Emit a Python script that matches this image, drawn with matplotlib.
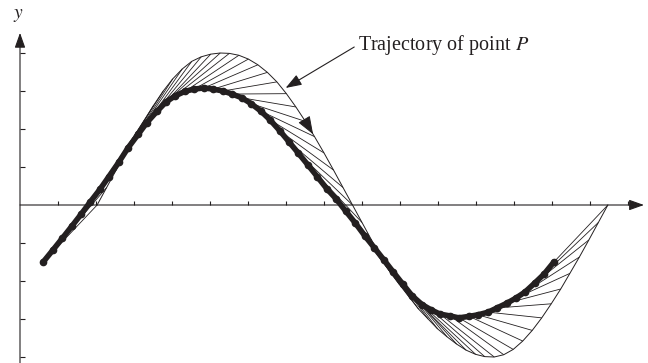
import matplotlib.pyplot as plt
from matplotlib.collections import LineCollection

plt.rcParams['font.family'] = ['Liberation Serif', 'DejaVu Serif']
plt.rcParams['mathtext.fontset'] = 'stix'

# point P, one sample per step
p_x = [2.03, 2.28, 2.53, 2.78, 3.03, 3.27, 3.52, 3.77, 4.02, 4.27,
       4.52, 4.77, 5.02, 5.27, 5.51, 5.76, 6.01, 6.26, 6.51, 6.76,
       7.01, 7.26, 7.51, 7.75, 8.00, 8.25, 8.50, 8.75, 9.00, 9.25,
       9.50, 9.75, 9.99, 10.24, 10.49, 10.74, 10.99, 11.24, 11.49, 11.74,
       11.99, 12.23, 12.48, 12.73, 12.98, 13.23, 13.48, 13.73, 13.98, 14.23,
       14.47, 14.72, 14.97, 15.22, 15.47]
p_y = [0.00, 0.46, 0.92, 1.37, 1.80, 2.22, 2.63, 3.00, 3.32, 3.58,
       3.78, 3.90, 3.97, 4.00, 3.99, 3.94, 3.84, 3.69, 3.49, 3.24,
       2.93, 2.58, 2.20, 1.80, 1.37, 0.92, 0.46, 0.00, -0.46, -0.92,
       -1.37, -1.78, -2.10, -2.42, -2.74, -3.00, -3.26, -3.47, -3.66, -3.82,
       -3.93, -3.99, -4.00, -3.94, -3.80, -3.58, -3.30, -2.97, -2.60, -2.21,
       -1.80, -1.37, -0.92, -0.46, 0.00]

# follower position at the same steps
q_x = [0.61, 0.87, 1.11, 1.37, 1.61, 1.84, 2.11, 2.34, 2.61, 2.84,
       3.11, 3.34, 3.61, 3.84, 4.08, 4.34, 4.58, 4.84, 5.08, 5.34,
       5.58, 5.84, 6.08, 6.34, 6.58, 6.84, 7.08, 7.32, 7.58, 7.82,
       8.08, 8.32, 8.58, 8.82, 9.08, 9.32, 9.58, 9.82, 10.08, 10.32,
       10.58, 10.82, 11.05, 11.32, 11.55, 11.82, 12.05, 12.32, 12.55, 12.82,
       13.05, 13.29, 13.55, 13.79, 14.05]
q_y = [-1.50, -1.18, -0.88, -0.55, -0.24, 0.07, 0.42, 0.75, 1.14, 1.50,
       1.86, 2.17, 2.47, 2.71, 2.87, 2.99, 3.05, 3.08, 3.05, 3.00,
       2.92, 2.82, 2.67, 2.47, 2.24, 1.95, 1.66, 1.37, 1.05, 0.75,
       0.42, 0.16, -0.17, -0.47, -0.82, -1.12, -1.45, -1.76, -2.09, -2.39,
       -2.62, -2.76, -2.87, -2.92, -2.97, -2.93, -2.89, -2.82, -2.71, -2.58,
       -2.45, -2.29, -2.05, -1.82, -1.50]

x_ticks = list(range(1, 17))
y_ticks = [-4, -3, -2, -1, 1, 2, 3, 4]

ink = '#231f20'

fig = plt.figure(figsize=(6.48, 3.63), dpi=100)
ax = fig.add_axes([0, 0, 1, 1])
ax.set_xlim(-20 / 38, 628 / 38)
ax.set_ylim(-158 / 38, 205 / 38)
ax.axis('off')

# axes with arrow heads
head = '-|>,head_length=0.7,head_width=0.25'
ax.annotate('', xy=(16.42, 0), xytext=(0, 0),
            arrowprops=dict(arrowstyle=head, lw=0.8, color=ink,
                            shrinkA=0, shrinkB=0, mutation_scale=13))
ax.annotate('', xy=(0, 4.53), xytext=(0, -4.2),
            arrowprops=dict(arrowstyle=head, lw=0.8, color=ink,
                            shrinkA=0, shrinkB=0, mutation_scale=13))
ax.vlines(x_ticks, 0, 0.11, color=ink, lw=0.8)
ax.hlines(y_ticks, 0, 0.13, color=ink, lw=0.8)
ax.text(-0.05, 4.98, '$y$', fontsize=14, ha='center', va='center', color=ink)

# segments joining the follower to P at each step
segs = [[(qx, qy), (px, py)] for qx, qy, px, py in zip(q_x, q_y, p_x, p_y)]
ax.add_collection(LineCollection(segs, colors=ink, linewidths=0.6))

# path of P
ax.plot(p_x, p_y, color=ink, lw=0.7)

# follower path, drawn as a bead chain
ax.plot(q_x, q_y, color=ink, lw=4.0, solid_capstyle='round',
        solid_joinstyle='round')
ax.plot(q_x, q_y, 'o', color=ink, ms=4.5)

# direction of motion along the path
ax.annotate('', xy=(p_x[23], p_y[23]), xytext=(p_x[22], p_y[22]),
            arrowprops=dict(arrowstyle='-|>,head_length=0.8,head_width=0.3',
                            lw=0.7, color=ink, shrinkA=0, shrinkB=2,
                            mutation_scale=14))

ax.annotate('Trajectory of point $P$', xy=(p_x[20] - 0.02, p_y[20] + 0.15),
            xytext=(8.9, 4.22), fontsize=14.5, color=ink, ha='left', va='center',
            arrowprops=dict(arrowstyle='-|>,head_length=0.7,head_width=0.25',
                            lw=0.8, color=ink, shrinkA=1, shrinkB=0,
                            relpos=(0, 0.5), mutation_scale=14))

fig.savefig('out.png', dpi=100)
